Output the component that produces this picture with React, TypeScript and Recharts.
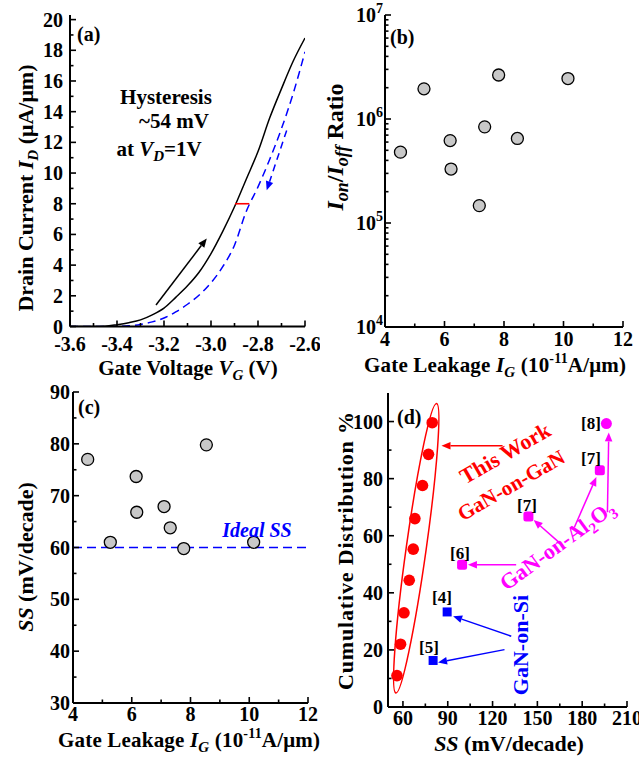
import React from "react";
import {
  ComposedChart,
  ScatterChart,
  Scatter,
  Line,
  XAxis,
  YAxis,
  ReferenceLine,
  ReferenceArea,
} from "recharts";

const FONT = "'Liberation Serif', 'Times New Roman', serif";
const M = 5;

// (a) transfer curve, forward and reverse sweep
const vgSweep = [-3.6, -3.55, -3.5, -3.45, -3.4, -3.35, -3.3, -3.25, -3.2, -3.15, -3.1, -3.05, -3.0, -2.95, -2.9, -2.85, -2.8, -2.75, -2.7, -2.65, -2.6];
const idForward = [0, 0, 0, 0.02, 0.12, 0.25, 0.43, 0.76, 1.2, 1.9, 2.65, 3.55, 4.75, 6.2, 7.8, 9.6, 11.4, 13.6, 15.5, 17.3, 18.8];
const idReverse = [0, 0, 0, 0, 0.01, 0.05, 0.13, 0.3, 0.55, 0.95, 1.45, 2.05, 2.85, 3.9, 5.3, 7.5, 9.1, 10.9, 12.9, 15.2, 17.9];

// (b) on/off ratio vs gate leakage
const igB = [4.52, 5.31, 6.19, 6.22, 7.17, 7.35, 7.82, 8.45, 10.15];
const ratioB = [4.8e5, 1.95e6, 6.2e5, 3.3e5, 1.47e5, 8.4e5, 2.65e6, 6.5e5, 2.45e6];

// (c) SS vs gate leakage
const igC = [4.5, 5.27, 6.15, 6.17, 7.1, 7.31, 7.77, 8.54, 10.15];
const ssC = [77, 61, 73.7, 66.8, 67.9, 63.8, 59.8, 79.8, 61];
const idealSS = 60;

// (d) cumulative distribution
const ssThisWork = [56, 58.4, 60.7, 64.2, 66.9, 68, 73.1, 77.1, 79.6];
const cumThisWork = [11, 22, 33, 44.4, 55.3, 66, 77.6, 88.5, 99.6];
const ssOnSi = [89.6, 80.2];
const cumOnSi = [33.3, 16.3];
const ssOnAl2O3 = [99.6, 144, 191.8];
const cumOnAl2O3 = [49.8, 66.7, 82.9];
const ssRef8 = [196.2];
const cumRef8 = [99.3];

// ticks
const aXMajor = [-3.6, -3.4, -3.2, -3.0, -2.8, -2.6];
const aXMinor = [-3.5, -3.3, -3.1, -2.9, -2.7];
const aYMajor = [0, 2, 4, 6, 8, 10, 12, 14, 16, 18, 20];
const aYMinor = [1, 3, 5, 7, 9, 11, 13, 15, 17, 19];
const igMajor = [4, 6, 8, 10, 12];
const igMinor = [5, 7, 9, 11];
const bYMajor = [1e4, 1e5, 1e6, 1e7];
const bYMinor = [1e4, 1e5, 1e6].flatMap((d) => [2, 3, 4, 5, 6, 7, 8, 9].map((k) => k * d));
const cYMajor = [30, 40, 50, 60, 70, 80, 90];
const cYMinor = [35, 45, 55, 65, 75, 85];
const dXMajor = [60, 90, 120, 150, 180, 210];
const dXMinor = [75, 105, 135, 165, 195];
const dYMajor = [0, 20, 40, 60, 80, 100];
const dYMinor = [10, 30, 50, 70, 90];

const all = (a: number[], b: number[]) => [...a, ...b].sort((p, q) => p - q);

const sweepRows = vgSweep.map((v, i) => ({ vg: v, fwd: idForward[i], rev: idReverse[i] }));
const bRows = igB.map((v, i) => ({ ig: v, ratio: ratioB[i] }));
const cRows = igC.map((v, i) => ({ ig: v, ss: ssC[i] }));
const thisRows = ssThisWork.map((v, i) => ({ ss: v, cum: cumThisWork[i] }));
const siRows = ssOnSi.map((v, i) => ({ ss: v, cum: cumOnSi[i] }));
const alRows = ssOnAl2O3.map((v, i) => ({ ss: v, cum: cumOnAl2O3[i] }));
const ref8Rows = ssRef8.map((v, i) => ({ ss: v, cum: cumRef8[i] }));

const labelStyle = { fontFamily: FONT, fontWeight: 700, fontSize: 20, fill: "#000" };
const frame = { stroke: "#000", strokeWidth: 2 };

type Side = "bottom" | "top" | "left" | "right";

function axisTick(side: Side, majors: number[], fmt?: (v: number) => React.ReactNode, gap = 3) {
  return (props: any) => {
    const { x, y, payload } = props;
    const v = Number(payload.value);
    const major = majors.some((m) => Math.abs(m - v) <= Math.abs(m) * 1e-6 + 1e-9);
    const len = major ? 6 : 3.5;
    const text = major && fmt ? fmt(v) : null;
    const ln = { stroke: "#000", strokeWidth: 1.6 };
    if (side === "bottom") {
      const ay = y - M;
      return (
        <g>
          <line x1={x} y1={ay} x2={x} y2={ay - len} {...ln} />
          {text != null && (
            <text x={x} y={ay + gap} dy="0.8em" textAnchor="middle" {...labelStyle}>{text}</text>
          )}
        </g>
      );
    }
    if (side === "top") {
      const ay = y + M;
      return <line x1={x} y1={ay} x2={x} y2={ay + len} {...ln} />;
    }
    if (side === "left") {
      const ax = x + M;
      return (
        <g>
          <line x1={ax} y1={y} x2={ax + len} y2={y} {...ln} />
          {text != null && (
            <text x={ax - gap} y={y} dy="0.35em" textAnchor="end" {...labelStyle}>{text}</text>
          )}
        </g>
      );
    }
    const ax = x - M;
    return <line x1={ax} y1={y} x2={ax - len} y2={y} {...ln} />;
  };
}

const powTen = (v: number) => (
  <>
    <tspan>10</tspan>
    <tspan dy={-9} fontSize={14}>{Math.round(Math.log10(v))}</tspan>
  </>
);

function arrow(color: string, dash?: string, head = 9) {
  return (p: any) => {
    const { x1, y1, x2, y2 } = p;
    const a = Math.atan2(y2 - y1, x2 - x1);
    const bx = x2 - head * Math.cos(a);
    const by = y2 - head * Math.sin(a);
    const w = head * 0.42;
    const pts = `${x2},${y2} ${bx + w * Math.sin(a)},${by - w * Math.cos(a)} ${bx - w * Math.sin(a)},${by + w * Math.cos(a)}`;
    return (
      <g>
        <line x1={x1} y1={y1} x2={bx} y2={by} stroke={color} strokeWidth={1.5} strokeDasharray={dash} />
        <polygon points={pts} fill={color} />
      </g>
    );
  };
}

const ellipseShape = (p: any) => {
  const { x, y, width, height } = p;
  const cx = x + width / 2;
  const cy = y + height / 2;
  const rx = Math.hypot(width, height) / 2;
  const ang = (-Math.atan2(height, width) * 180) / Math.PI;
  return (
    <ellipse cx={cx} cy={cy} rx={rx} ry={10} transform={`rotate(${ang} ${cx} ${cy})`} fill="none" stroke="#ff0000" strokeWidth={1.5} />
  );
};

const grayDot = (p: any) => <circle cx={p.cx} cy={p.cy} r={6} fill="#c8c8c8" stroke="#000" strokeWidth={1.3} />;
const redDot = (p: any) => <circle cx={p.cx} cy={p.cy} r={5.8} fill="#ff0000" />;
const blueSquare = (p: any) => <rect x={p.cx - 4.5} y={p.cy - 4.5} width={9} height={9} fill="#0000ff" />;
const magentaSquare = (p: any) => <rect x={p.cx - 5} y={p.cy - 5} width={10} height={10} rx={2.5} fill="#ff00ff" />;
const magentaDot = (p: any) => <circle cx={p.cx} cy={p.cy} r={5.5} fill="#ff00ff" />;

function frameAxes(
  xDomain: [number, number],
  xTicks: number[],
  xMajor: number[],
  xFmt: (v: number) => React.ReactNode,
  yDomain: [number, number],
  yTicks: number[],
  yMajor: number[],
  yFmt: (v: number) => React.ReactNode,
  opts: { xKey?: string; yKey?: string; yScale?: "log" | "linear"; xGap?: number; yGap?: number }
) {
  const common = { type: "number" as const, allowDataOverflow: true, interval: 0 as const, tickSize: 0, tickMargin: M, axisLine: frame, tickLine: false };
  const ys = opts.yScale || "linear";
  return [
    <XAxis key="xb" {...common} dataKey={opts.xKey} domain={xDomain} ticks={xTicks} height={30} tick={axisTick("bottom", xMajor, xFmt, opts.xGap)} />,
    <XAxis key="xt" {...common} xAxisId="top" orientation="top" domain={xDomain} ticks={xTicks} height={0} tick={axisTick("top", xMajor)} />,
    <YAxis key="yl" {...common} dataKey={opts.yKey} scale={ys} domain={yDomain} ticks={yTicks} width={50} tick={axisTick("left", yMajor, yFmt, opts.yGap)} />,
    <YAxis key="yr" {...common} yAxisId="right" orientation="right" scale={ys} domain={yDomain} ticks={yTicks} width={0} tick={axisTick("right", yMajor)} />,
  ];
}

// subscript followed by the rest of the text on the normal baseline
const sub = (s: string, rest?: string, italic = true, size = 15) => (
  <>
    <tspan fontSize={size} dy={5} fontStyle={italic ? "italic" : "normal"}>{s}</tspan>
    {rest ? <tspan dy={-5}>{rest}</tspan> : null}
  </>
);

const leakageTitle = (
  <>
    Gate Leakage <tspan fontStyle="italic">I</tspan>
    {sub("G", " (10")}
    <tspan dy={-9} fontSize={14}>-11</tspan>
    <tspan dy={9}>A/μm)</tspan>
  </>
);

export default function App() {
  return (
    <div style={{ position: "absolute", left: 0, top: 0, width: 639, height: 761, background: "#fff" }}>
      <div style={{ position: "absolute", left: 0, top: 0 }}>
        <ComposedChart width={320} height={360} data={sweepRows} margin={{ top: 15, right: 15, bottom: 3.5, left: 20 }}>
          {frameAxes([-3.6, -2.6], all(aXMajor, aXMinor), aXMajor, (v) => v.toFixed(1), [0, 20.3], all(aYMajor, aYMinor), aYMajor, (v) => String(v), { xKey: "vg", xGap: 8, yGap: 7 })}
          <Line type="monotone" dataKey="rev" stroke="#0000ff" strokeWidth={1.5} strokeDasharray="8 5" dot={false} isAnimationActive={false} />
          <Line type="monotone" dataKey="fwd" stroke="#000" strokeWidth={1.5} dot={false} isAnimationActive={false} />
          <ReferenceLine segment={[{ x: -3.234, y: 1.4 }, { x: -3.018, y: 5.74 }]} shape={arrow("#000")} />
          <ReferenceLine segment={[{ x: -2.678, y: 12.78 }, { x: -2.763, y: 8.88 }]} shape={arrow("#0000ff", "7 5")} />
          <ReferenceLine segment={[{ x: -2.898, y: 8 }, { x: -2.837, y: 8 }]} stroke="#ff0000" strokeWidth={1.6} />
        </ComposedChart>
      </div>

      <div style={{ position: "absolute", left: 320, top: 0 }}>
        <ScatterChart width={319} height={380} margin={{ top: 15, right: 16, bottom: 23, left: 15 }}>
          {frameAxes([4, 12], all(igMajor, igMinor), igMajor, (v) => String(v), [1e4, 1e7], all(bYMajor, bYMinor), bYMajor, powTen, { xKey: "ig", yKey: "ratio", yScale: "log", xGap: 3, yGap: 2 })}
          <Scatter data={bRows} shape={grayDot} isAnimationActive={false} />
        </ScatterChart>
      </div>

      <div style={{ position: "absolute", left: 0, top: 360 }}>
        <ScatterChart width={320} height={401} margin={{ top: 32, right: 12, bottom: 28, left: 23 }}>
          {frameAxes([4, 12], all(igMajor, igMinor), igMajor, (v) => String(v), [30, 90], all(cYMajor, cYMinor), cYMajor, (v) => String(v), { xKey: "ig", yKey: "ss", xGap: 2, yGap: 3 })}
          <ReferenceLine y={idealSS} stroke="#0000ff" strokeWidth={1.5} strokeDasharray="9 5" />
          <Scatter data={cRows} shape={grayDot} isAnimationActive={false} />
        </ScatterChart>
      </div>

      <div style={{ position: "absolute", left: 320, top: 380 }}>
        <ScatterChart width={319} height={381} margin={{ top: 13, right: 12, bottom: 24, left: 18 }}>
          {frameAxes([50, 210], all(dXMajor, dXMinor), dXMajor, (v) => String(v), [0, 110], all(dYMajor, dYMinor), dYMajor, (v) => String(v), { xKey: "ss", yKey: "cum", xGap: 2, yGap: 5 })}
          <ReferenceArea x1={55.3} x2={82.5} y1={4.9} y2={106.3} shape={ellipseShape} />
          <ReferenceLine segment={[{ x: 126.7, y: 91.5 }, { x: 85.8, y: 91.5 }]} shape={arrow("#ff0000")} />
          <ReferenceLine segment={[{ x: 135.8, y: 49.8 }, { x: 103.5, y: 49.8 }]} shape={arrow("#ff00ff")} />
          <ReferenceLine segment={[{ x: 164.7, y: 57.6 }, { x: 147.5, y: 65.5 }]} shape={arrow("#ff00ff")} />
          <ReferenceLine segment={[{ x: 174.7, y: 62.9 }, { x: 189.5, y: 80.6 }]} shape={arrow("#ff00ff")} />
          <ReferenceLine segment={[{ x: 196.9, y: 68.2 }, { x: 197.8, y: 96.2 }]} shape={arrow("#ff00ff")} />
          <ReferenceLine segment={[{ x: 132.5, y: 24.8 }, { x: 93.6, y: 31.8 }]} shape={arrow("#0000ff")} />
          <ReferenceLine segment={[{ x: 128, y: 20.1 }, { x: 83.5, y: 15.6 }]} shape={arrow("#0000ff")} />
          <Scatter data={thisRows} shape={redDot} isAnimationActive={false} />
          <Scatter data={siRows} shape={blueSquare} isAnimationActive={false} />
          <Scatter data={alRows} shape={magentaSquare} isAnimationActive={false} />
          <Scatter data={ref8Rows} shape={magentaDot} isAnimationActive={false} />
        </ScatterChart>
      </div>

      <svg width={639} height={761} style={{ position: "absolute", left: 0, top: 0, pointerEvents: "none" }} fontFamily={FONT} fontWeight="bold" fontSize={21}>
        {/* panel (a) */}
        <text x={77} y={41} fontSize={20}>(a)</text>
        <text x={166} y={104} textAnchor="middle">Hysteresis</text>
        <text x={174} y={128} textAnchor="middle">~54 mV</text>
        <text x={159} y={156} textAnchor="middle">
          at <tspan fontStyle="italic">V</tspan>
          {sub("D", "=1V")}
        </text>
        <text x={188} y={375} textAnchor="middle">
          Gate Voltage <tspan fontStyle="italic">V</tspan>
          {sub("G", " (V)")}
        </text>
        <text x={33} y={188} textAnchor="middle" transform="rotate(-90 33 188)" fontSize={22} textLength={247} lengthAdjust="spacing">
          Drain Current <tspan fontStyle="italic">I</tspan>
          {sub("D", " (μA/μm)")}
        </text>

        {/* panel (b) */}
        <text x={390} y={44} fontSize={20}>(b)</text>
        <text x={495} y={372} textAnchor="middle" textLength={262} lengthAdjust="spacing">{leakageTitle}</text>
        <text x={343} y={147} textAnchor="middle" transform="rotate(-90 343 147)" fontSize={24}>
          <tspan fontStyle="italic">I</tspan>
          {sub("on", "/", true, 18)}
          <tspan fontStyle="italic">I</tspan>
          {sub("off", " Ratio", true, 18)}
        </text>

        {/* panel (c) */}
        <text x={78} y={414} fontSize={20}>(c)</text>
        <text x={257} y={537} textAnchor="middle" fill="#0000ff" fontStyle="italic" fontSize={20}>Ideal SS</text>
        <text x={189} y={747} textAnchor="middle" textLength={262} lengthAdjust="spacing">{leakageTitle}</text>
        <text x={33} y={557} textAnchor="middle" transform="rotate(-90 33 557)" fontSize={22}>
          <tspan fontStyle="italic">SS</tspan> (mV/decade)
        </text>

        {/* panel (d) */}
        <text x={397} y={424} fontSize={20}>(d)</text>
        <text x={509} y={751} textAnchor="middle" fontSize={22}>
          <tspan fontStyle="italic">SS</tspan> (mV/decade)
        </text>
        <text x={353} y={551} textAnchor="middle" transform="rotate(-90 353 551)" fontSize={22} textLength={278} lengthAdjust="spacing">
          Cumulative Distribution %
        </text>
        <text x={505} y={453} dy="0.35em" textAnchor="middle" fill="#ff0000" fontSize={22} transform="rotate(-30 505 453)">This Work</text>
        <text x={511} y={485} dy="0.35em" textAnchor="middle" fill="#ff0000" fontSize={21} transform="rotate(-30 511 485)">GaN-on-GaN</text>
        <text x={557} y={545} dy="0.35em" textAnchor="middle" fill="#ff00ff" fontSize={22} transform="rotate(-36 557 545)">
          GaN-on-Al
          {sub("2", "O", false)}
          {sub("3", undefined, false)}
        </text>
        <text x={520} y={645} dy="0.35em" textAnchor="middle" fill="#0000ff" fontSize={22} transform="rotate(-90 520 645)">GaN-on-Si</text>
        <g fontSize={17}>
          <text x={591} y={423} dy="0.35em" textAnchor="middle">[8]</text>
          <text x={591} y={458} dy="0.35em" textAnchor="middle">[7]</text>
          <text x={527} y={505} dy="0.35em" textAnchor="middle">[7]</text>
          <text x={460} y={553} dy="0.35em" textAnchor="middle">[6]</text>
          <text x={442} y={597} dy="0.35em" textAnchor="middle">[4]</text>
          <text x={429} y={647} dy="0.35em" textAnchor="middle">[5]</text>
        </g>
      </svg>
    </div>
  );
}
